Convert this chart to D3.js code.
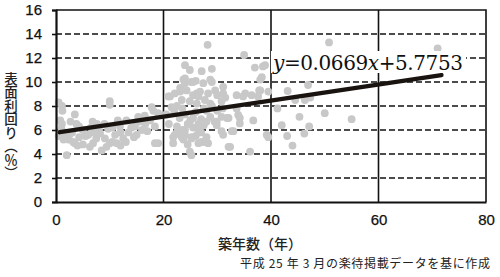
<!DOCTYPE html>
<html><head><meta charset="utf-8">
<script src="https://cdn.jsdelivr.net/npm/d3@7"></script>
<style>html,body{margin:0;padding:0;background:#fff;}svg{display:block;}
.eq{font-family:"DejaVu Serif","Liberation Serif",serif;}</style>
</head><body>
<script>
// Data: building age (years) vs gross yield (%)
const points = [
[0.5,8.3],[1.1,8.0],[1.2,7.6],[0.8,6.8],[1.1,6.5],[1.0,6.1],[1.4,5.2],[2.3,5.2],[3.2,5.0],[2.0,3.9],
[2.7,6.7],[3.5,7.3],[3.8,6.5],[4.3,6.3],[4.3,5.4],[3.0,5.8],[5.0,6.0],[5.5,5.5],[6.0,5.6],[6.3,4.6],
[6.8,6.7],[7.6,6.5],[6.9,4.9],[7.5,5.3],[8.2,5.7],[8.5,4.3],[9.1,5.3],[9.4,4.6],[9.7,6.1],[10.0,8.4],
[10.0,8.1],[10.5,5.0],[11.0,5.6],[11.3,4.9],[11.9,6.3],[12.5,5.3],[13.1,6.8],[13.5,5.8],[14.0,6.2],[14.7,6.3],
[15.3,7.1],[15.0,5.6],[16.0,6.0],[16.6,6.5],[17.0,5.9],[17.8,7.9],[18.1,7.6],[18.4,6.3],[18.4,4.9],[19.0,7.4],
[19.0,4.9],[8.0,6.0],[9.0,6.5],[10.5,6.2],[12.0,5.8],[13.0,5.0],[12.0,4.7],[10.0,4.9],[7.0,5.8],[6.5,6.2],
[5.0,4.8],[4.0,4.7],[15.5,6.7],[16.5,7.2],[17.5,6.8],[14.5,5.4],[11.5,6.8],[2.5,5.6],[1.5,5.8],[0.5,5.5],[3.5,4.9],
[20.9,8.8],[21.2,8.8],[22.1,9.05],[23.1,9.5],[24.0,9.9],[25.2,10.0],[26.2,9.05],[24.0,11.4],[24.9,11.0],[27.1,10.9],
[29.0,11.1],[28.2,13.1],[24.0,10.3],[25.5,10.0],[27.4,9.9],[29.0,10.0],[23.7,10.2],[26.0,10.1],[28.7,10.2],[23.1,9.2],
[24.3,9.3],[25.5,8.9],[26.8,9.2],[28.3,9.05],[29.6,9.3],[31.1,9.05],[31.1,9.6],[23.4,8.5],[24.9,8.4],[26.2,8.2],
[27.7,8.5],[28.7,8.2],[30.8,8.4],[22.0,7.5],[23.0,7.0],[24.0,7.3],[25.0,6.8],[26.0,7.5],[27.0,6.9],[22.5,6.3],
[23.5,6.0],[24.5,6.5],[25.5,6.2],[26.5,6.0],[27.5,6.4],[28.0,7.6],[28.7,7.1],[29.5,6.7],[28.0,6.7],[29.9,6.7],
[30.8,7.1],[31.8,7.0],[32.1,7.0],[30.8,5.9],[29.9,6.4],[31.1,5.6],[21.8,5.4],[23.4,5.4],[25.2,5.4],[21.8,4.9],
[22.1,5.6],[24.0,5.6],[25.2,5.3],[23.7,5.2],[24.9,4.2],[26.5,4.9],[27.1,5.0],[28.3,4.9],[28.0,5.4],[27.4,5.0],
[25.2,3.9],[20.5,7.3],[21.0,6.5],[21.5,7.9],[22.5,8.0],[23.5,7.8],[26.5,8.8],[27.5,7.8],[29.0,8.0],[30.0,7.6],
[31.0,7.8],[25.5,7.0],[26.5,6.5],[24.0,6.0],[22.5,5.8],[27.0,5.8],[26.0,5.5],[24.5,4.8],[30.0,8.9],[31.5,8.7],
[32.7,5.9],[33.0,5.9],[32.1,4.6],[32.4,4.6],[33.6,8.9],[33.6,7.8],[33.9,7.25],[34.2,7.0],[34.2,6.55],[34.8,8.8],
[35.2,9.05],[35.0,12.25],[36.4,8.9],[36.7,6.8],[36.1,4.2],[37.0,11.2],[38.5,11.3],[38.3,10.4],[38.0,10.2],[38.0,9.3],
[37.6,8.8],[39.5,9.2],[39.2,5.6],[39.5,5.4],[38.9,11.4],[37.8,9.3],
[41.2,7.8],[42.0,6.4],[43.1,9.25],[43.0,5.5],[44.0,4.7],[44.5,8.5],[45.3,7.1],[46.2,5.7],[46.3,8.5],[46.9,9.75],
[47.1,6.3],[47.3,8.7],[50.0,7.4],[50.8,13.3],[55.0,6.9],[71.0,12.8]
];
const trendSlope = 0.0669;
const trendIntercept = 5.7753;
const trendRange = [0.7, 71.7];
const xTicks = [0, 20, 40, 60, 80];
const yTicks = [0, 2, 4, 6, 8, 10, 12, 14, 16];
const yTitle = "表面利回り（％）";
const xTitle = "築年数（年）";
const equationText = ["y", "=0.0669", "x", "+5.7753"];
const sourceNote = "平成 25 年 3 月の楽待掲載データを基に作成";

const W = 500, H = 277;
const svg = d3.select("body").append("svg").attr("width", W).attr("height", H);
const x = d3.scaleLinear().domain([0, 80]).range([56, 486]);
const y = d3.scaleLinear().domain([0, 16]).range([202, 10]);
const tickFont = "'Liberation Sans', Arial, sans-serif";
const jpFont = "'Noto Sans CJK JP', 'Noto Sans CJK SC', sans-serif";

// dashed horizontal grid
svg.append("g").selectAll("line").data(yTicks.filter(d => d > 0 && d < 16)).join("line")
  .attr("x1", x(0)).attr("x2", x(80)).attr("y1", d => y(d)).attr("y2", d => y(d))
  .attr("stroke", "#111").attr("stroke-width", 1.6).attr("stroke-dasharray", "6,3");
// vertical solid grid
svg.append("g").selectAll("line").data(xTicks.filter(d => d > 0 && d < 80)).join("line")
  .attr("x1", d => x(d)).attr("x2", d => x(d)).attr("y1", y(0)).attr("y2", y(16))
  .attr("stroke", "#111").attr("stroke-width", 1.6);
// frame top/right
svg.append("path").attr("d", `M${x(0)},${y(16)}H${x(80)}V${y(0)}`)
  .attr("fill", "none").attr("stroke", "#111").attr("stroke-width", 1.6);

// points
svg.append("g").selectAll("circle").data(points).join("circle")
  .attr("cx", d => x(d[0])).attr("cy", d => y(d[1])).attr("r", 3.9).attr("fill", "#c8c8c8");

// trend line
svg.append("line")
  .attr("x1", x(trendRange[0])).attr("y1", y(trendIntercept + trendSlope * trendRange[0]))
  .attr("x2", x(trendRange[1])).attr("y2", y(trendIntercept + trendSlope * trendRange[1]))
  .attr("stroke", "#1a1411").attr("stroke-width", 4.5).attr("stroke-linecap", "round");

// axes
const yAxis = d3.axisLeft(y).tickValues(yTicks).tickSize(4).tickPadding(10).tickFormat(d3.format("d"));
const gy = svg.append("g").attr("transform", `translate(${x(0)},0)`).call(yAxis);
gy.select(".domain").attr("stroke", "#111").attr("stroke-width", 2.2);
gy.selectAll(".tick line").attr("stroke", "#111").attr("stroke-width", 1.6);
gy.selectAll("text").attr("font-family", tickFont).attr("font-size", 15).attr("fill", "#111")
  .attr("stroke", "#111").attr("stroke-width", 0.25);

const xAxis = d3.axisBottom(x).tickValues(xTicks).tickSize(0).tickPadding(12).tickFormat(d3.format("d"));
const gx = svg.append("g").attr("transform", `translate(0,${y(0)})`).call(xAxis);
gx.select(".domain").attr("stroke", "#111").attr("stroke-width", 2.2);
gx.selectAll("text").attr("font-family", tickFont).attr("font-size", 15).attr("fill", "#111")
  .attr("stroke", "#111").attr("stroke-width", 0.25);

// equation label with white background
svg.append("rect").attr("x", 271).attr("y", 51).attr("width", 195).attr("height", 22).attr("fill", "#fff");
const eq = svg.append("text").attr("class", "eq").attr("x", 273).attr("y", 70)
  .attr("font-size", 20).attr("fill", "#111")
  .attr("textLength", 190).attr("lengthAdjust", "spacing");
eq.selectAll("tspan").data(equationText).join("tspan")
  .attr("font-style", (d, i) => i % 2 === 0 ? "italic" : "normal").text(d => d);

// y title (vertical)
svg.append("text").attr("x", 11).attr("y", 72)
  .style("writing-mode", "vertical-rl").style("text-orientation", "upright")
  .attr("font-family", jpFont).attr("font-size", 13.5).attr("font-weight", 500).attr("fill", "#222").text(yTitle);

// x title
svg.append("text").attr("x", 260).attr("y", 249).attr("text-anchor", "middle")
  .attr("font-family", jpFont).attr("font-size", 14).attr("font-weight", 500).attr("fill", "#222").text(xTitle);

// source note
svg.append("text").attr("x", 490).attr("y", 268).attr("text-anchor", "end")
  .attr("font-family", jpFont).attr("font-size", 12).attr("fill", "#222")
  .attr("textLength", 250).attr("lengthAdjust", "spacing").text(sourceNote);
</script>
</body></html>
